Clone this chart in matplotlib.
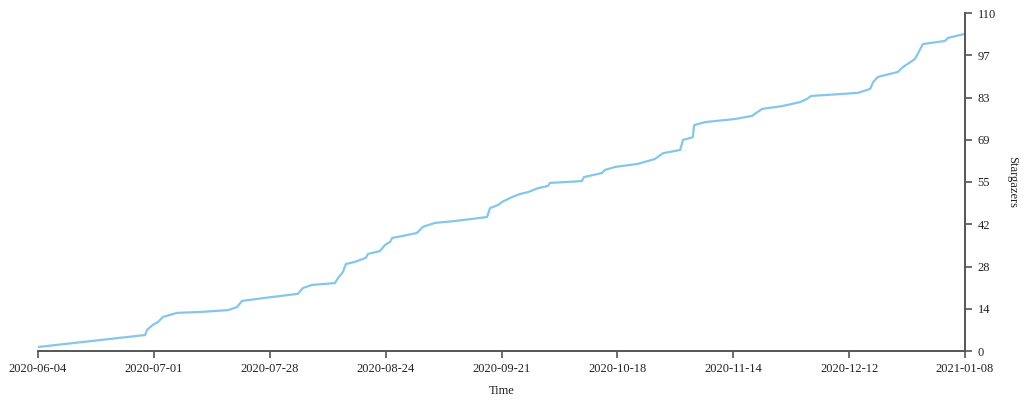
import matplotlib.pyplot as plt
import numpy as np

plt.rcParams['font.family'] = ['Liberation Serif', 'DejaVu Serif']

# days since 2020-06-04 and star count
days = [0, 25.2, 25.6, 27.0, 28.2, 29.4, 32.7, 38.1, 44.7, 46.8, 48.0, 52.9,
        61.1, 62.3, 64.4, 69.8, 70.6, 71.7, 72.4, 74.5, 77.1, 77.6, 80.4, 81.6,
        82.8, 83.3, 85.6, 89.1, 90.5, 93.4, 98.1, 105.6, 106.3, 108.2, 109.1,
        111.5, 113.4, 115.2, 117.6, 119.9, 120.4, 127.9, 128.4, 132.6, 133.3,
        135.7, 141.1, 145.1, 147.0, 151.0, 151.7, 153.3, 154.0, 154.3, 156.9,
        163.9, 167.9, 170.3, 175.0, 179.2, 180.8, 181.8, 192.8, 195.7, 196.4,
        197.5, 202.2, 203.4, 206.2, 207.0, 208.1, 213.3, 214.0, 218.0]
stars = [1.3, 5.2, 6.8, 8.5, 9.4, 11.1, 12.4, 12.7, 13.3, 14.3, 16.3, 17.2,
         18.6, 20.5, 21.5, 22.1, 23.8, 25.7, 28.3, 29.0, 30.3, 31.6, 32.5, 34.5,
         35.5, 36.8, 37.4, 38.4, 40.4, 41.7, 42.3, 43.6, 46.5, 47.5, 48.5,
         50.1, 51.1, 51.7, 53.0, 53.7, 54.7, 55.3, 56.6, 57.9, 58.9,
         59.9, 60.9, 62.5, 64.4, 65.4, 68.7, 69.3, 69.6, 73.5, 74.5,
         75.5, 76.5, 78.8, 79.7, 81.0, 82.0, 83.0, 84.0, 85.3, 87.5,
         89.2, 90.8, 92.4, 95.0, 97.0, 99.9, 100.9, 101.9, 103.2]

x_labels = ['2020-06-04', '2020-07-01', '2020-07-28', '2020-08-24', '2020-09-21',
            '2020-10-18', '2020-11-14', '2020-12-12', '2021-01-08']
y_labels = ['0', '14', '28', '42', '55', '69', '83', '97', '110']

fig = plt.figure(figsize=(10.24, 4), dpi=100)
ax = fig.add_axes([38 / 1024, 1 - 351 / 400, (965 - 38) / 1024, (351 - 13) / 400])

ax.plot(days, stars, color='#85c6ea', linewidth=1.6, solid_joinstyle='round')

ax.set_xlim(0, 218)
ax.set_ylim(0, 110)
ax.set_xticks(np.linspace(0, 218, 9))
ax.set_xticklabels(x_labels)
ax.set_yticks(np.linspace(0, 110, 9))
ax.set_yticklabels(y_labels)

axis_color = '#555555'
for side in ['top', 'left']:
    ax.spines[side].set_visible(False)
for side in ['bottom', 'right']:
    ax.spines[side].set_color(axis_color)
    ax.spines[side].set_linewidth(1.4)

ax.yaxis.tick_right()
ax.tick_params(axis='both', colors=axis_color, labelcolor='#222222', labelsize=9,
               length=5, width=1.2, pad=4)

ax.set_xlabel('Time', fontsize=9, color='#222222', labelpad=7)
# y label sits just right of the tick labels, reading top to bottom
fig.text(1012 / 1024, 1 - 182 / 400, 'Stargazers', fontsize=9, color='#222222',
         rotation=-90, ha='center', va='center')

fig.savefig('out.png', dpi=100, facecolor='white')
